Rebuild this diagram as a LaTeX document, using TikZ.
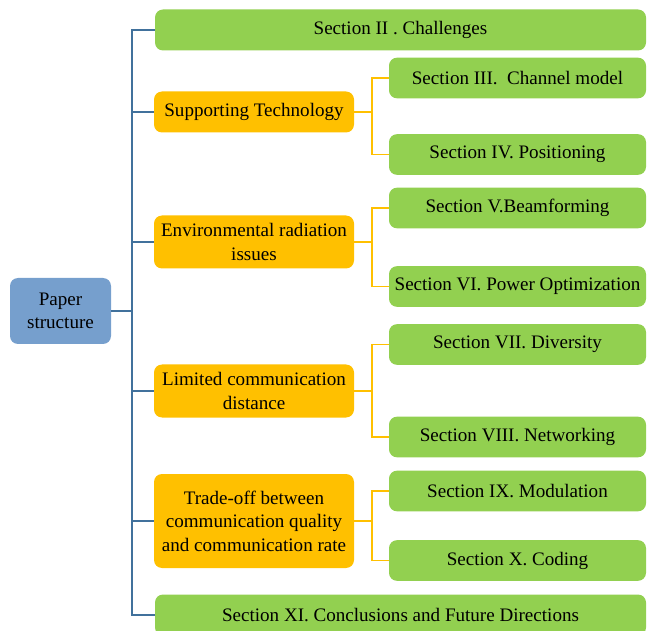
\documentclass[tikz,border=0pt]{standalone}
\usepackage{fontspec}
\setmainfont{Liberation Serif}
\usepackage{tikz}
\usetikzlibrary{positioning}

\definecolor{rootblue}{RGB}{118,159,205}
\definecolor{trunkblue}{RGB}{65,113,156}
\definecolor{secgreen}{RGB}{146,208,80}
\definecolor{topicgold}{RGB}{255,192,0}

\begin{document}
\begin{tikzpicture}
        [ x=0.75pt, y=-0.75pt,
          every node/.style = {rounded corners=6pt, inner sep=2pt, align=center,
                               font=\fontsize{14.3}{17.6}\selectfont},
          root node/.style = {fill=rootblue, minimum width=75.75pt, minimum height=49.5pt},
          topic node/.style = {fill=topicgold, minimum width=150pt},
          section node/.style = {fill=secgreen, minimum width=192.75pt, minimum height=30.5pt},
          wide node/.style = {fill=secgreen, minimum width=368.25pt, minimum height=30.75pt},
          trunk/.style = {draw=trunkblue, line width=1.2pt},
          branch/.style = {draw=topicgold, line width=1.2pt}]
        \useasboundingbox (0,0) rectangle (647,631);
        % left side
        \node[root node] (paper) at (60.5,311) {Paper\\structure};
        \node[wide node] (sec2) at (400.5,30) {Section II . Challenges};
        \node[topic node, minimum height=30.75pt] (tech) at (254,112) {Supporting Technology};
        \node[topic node, minimum height=39.75pt] (env) at (254,242) {Environmental radiation\\issues};
        \node[topic node, minimum height=39.75pt] (dist) at (254,391) {Limited communication\\distance};
        \node[topic node, minimum height=70.5pt] (trade) at (254,521) {Trade-off between\\communication quality\\and communication rate};
        \node[wide node] (sec11) at (400.5,615) {Section XI. Conclusions and Future Directions};
        % right side
        \node[section node] (sec3) at (517.5,78) {Section III.\ \ Channel model};
        \node[section node] (sec4) at (517.5,154.5) {Section IV. Positioning};
        \node[section node] (sec5) at (517.5,208) {Section V.Beamforming};
        \node[section node] (sec6) at (517.5,286.5) {Section VI. Power Optimization};
        \node[section node] (sec7) at (517.5,344.5) {Section VII. Diversity};
        \node[section node] (sec8) at (517.5,437) {Section VIII. Networking};
        \node[section node] (sec9) at (517.5,491) {Section IX. Modulation};
        \node[section node] (sec10) at (517.5,560.5) {Section X. Coding};
        % connectors
        \foreach \child in {sec2,tech,env,dist,trade,sec11}
            \draw[trunk] (paper.east) -- ++(21,0) |- (\child.west);
        \foreach \parent/\upper/\lower in {tech/sec3/sec4, env/sec5/sec6,
                                          dist/sec7/sec8, trade/sec9/sec10}
        {
            \draw[branch] (\parent.east) -- ++(18,0) |- (\upper.west);
            \draw[branch] (\parent.east) -- ++(18,0) |- (\lower.west);
        }
    \end{tikzpicture}
\end{document}
